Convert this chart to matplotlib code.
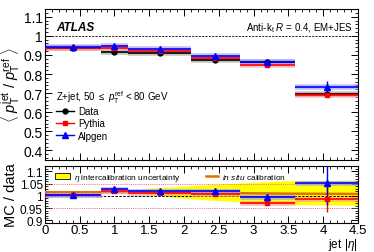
import matplotlib

matplotlib.use("Agg")
import matplotlib.pyplot as plt
from matplotlib.ticker import MultipleLocator, FixedLocator
from matplotlib.lines import Line2D
from matplotlib.patches import Patch

# eta bins and mean jet |eta| per bin
bin_lo = [0.0, 0.8, 1.2, 2.1, 2.8, 3.6]
bin_hi = [0.8, 1.2, 2.1, 2.8, 3.6, 4.5]
eta_pts = [0.4, 1.0, 1.65, 2.45, 3.2, 4.05]

# <pT jet / pT ref>
resp_data = [0.937, 0.917, 0.912, 0.872, 0.865, 0.695]
resp_pythia = [0.938, 0.938, 0.922, 0.882, 0.845, 0.690]
resp_alpgen = [0.939, 0.947, 0.930, 0.892, 0.864, 0.733]
err_data = [0.004, 0.006, 0.005, 0.005, 0.006, 0.012]
err_pythia = [0.003, 0.004, 0.004, 0.004, 0.005, 0.010]
err_alpgen = [0.004, 0.006, 0.005, 0.006, 0.008, 0.032]

# MC / data
ratio_pythia = [1.003, 1.019, 1.012, 1.009, 0.972, 0.988]
ratio_alpgen = [1.005, 1.030, 1.022, 1.022, 0.994, 1.052]
rerr_pythia = [0.004, 0.005, 0.005, 0.006, 0.008, 0.055]
rerr_alpgen = [0.004, 0.006, 0.006, 0.007, 0.010, 0.090]

# eta intercalibration uncertainty band and in situ calibration
band_eta = [1.2, 1.5, 2.0, 2.5, 3.0, 3.5, 4.5]
band_hi = [1.020, 1.032, 1.040, 1.048, 1.055, 1.062, 1.064]
band_lo = [1.020, 1.004, 0.990, 0.981, 0.972, 0.965, 0.962]
insitu_eta = [0.0, 1.2, 2.1, 2.8, 3.6, 4.5]
insitu_val = [1.015, 1.015, 1.013, 1.011, 1.009, 1.008]

plt.rcParams["font.family"] = ["Liberation Sans", "DejaVu Sans"]
plt.rcParams["mathtext.fontset"] = "custom"
plt.rcParams["mathtext.rm"] = "Liberation Sans"
plt.rcParams["mathtext.it"] = "Liberation Sans:italic"

fig = plt.figure(figsize=(3.74, 2.53), dpi=100)
ax = fig.add_axes([0.120, 0.364, 0.837, 0.596])
axr = fig.add_axes([0.120, 0.115, 0.837, 0.225])


def style(a, ysize=10):
    a.tick_params(which="both", direction="in", top=True, right=True, labelsize=10, pad=1.5)
    a.tick_params(axis="y", labelsize=ysize)
    a.tick_params(axis="x", labelsize=9.5, pad=1)
    a.tick_params(which="major", length=5, width=0.7)
    a.tick_params(which="minor", length=2.5, width=0.6)
    for s in a.spines.values():
        s.set_linewidth(0.8)


series = [
    (resp_data, err_data, "black", "o", 3.5),
    (resp_pythia, err_pythia, "red", "s", 3.5),
    (resp_alpgen, err_alpgen, "blue", "^", 4),
]
light = {"black": "#999999", "red": "#ff9999", "blue": "#9999ff"}

for vals, errs, c, m, ms in series:
    ax.hlines(vals, bin_lo, bin_hi, colors=light[c], lw=4, alpha=0.6, zorder=2)
    ax.hlines(vals, bin_lo, bin_hi, colors=c, lw=1.2, zorder=3)
    ax.errorbar(eta_pts, vals, yerr=errs, fmt=m, color=c, ms=ms, elinewidth=1, zorder=4)

ax.axhline(1.0, color="black", ls=(0, (2.5, 1.5)), lw=0.6, zorder=1)
ax.set_xlim(0, 4.5)
ax.set_ylim(0.35, 1.14)
ax.xaxis.set_major_locator(MultipleLocator(0.5))
ax.xaxis.set_minor_locator(MultipleLocator(0.1))
ax.yaxis.set_major_locator(FixedLocator([0.4, 0.5, 0.6, 0.7, 0.8, 0.9, 1.0, 1.1]))
ax.yaxis.set_minor_locator(MultipleLocator(0.02))
ax.set_yticklabels(["0.4", "0.5", "0.6", "0.7", "0.8", "0.9", "1", "1.1"])
ax.set_xticklabels([])
style(ax)
ax.set_ylabel(r"$\langle\ p_{\mathrm{T}}^{\mathrm{jet}}\ /\ p_{\mathrm{T}}^{\mathrm{ref}}\ \rangle$",
              fontsize=10.5, labelpad=1)

ax.text(0.035, 0.88, "ATLAS", transform=ax.transAxes, fontsize=8.5,
        fontweight="bold", fontstyle="italic", va="center")
ax.text(0.985, 0.88, r"Anti-k$_{\mathrm{t}}$ $R$ = 0.4, EM+JES", transform=ax.transAxes,
        fontsize=7, ha="right", va="center")
ax.text(0.035, 0.42, r"Z+jet, 50 $\leq$ $p_{\mathrm{T}}^{\mathrm{ref}}$ < 80 GeV",
        transform=ax.transAxes, fontsize=7, va="center")

handles = [
    Line2D([], [], color="black", marker="o", ms=3.5, lw=1),
    Line2D([], [], color="red", marker="s", ms=3.5, lw=1),
    Line2D([], [], color="blue", marker="^", ms=4, lw=1),
]
ax.legend(handles, ["Data", "Pythia", "Alpgen"], loc="upper left",
          bbox_to_anchor=(0.02, 0.39), frameon=False, fontsize=7,
          handlelength=1.8, handletextpad=0.5, labelspacing=0.25, borderpad=0)

# ratio panel
axr.fill_between(band_eta, band_lo, band_hi, color="#ffff00", lw=0, zorder=1)
axr.axhline(1.05, color="#ff6666", ls=(0, (1, 1.2)), lw=0.7, zorder=2)
axr.axhline(0.95, color="#ff6666", ls=(0, (1, 1.2)), lw=0.7, zorder=2)
axr.axhline(1.0, color="black", ls=(0, (2.5, 1.5)), lw=0.7, zorder=2)
axr.plot(insitu_eta, insitu_val, color="#e07000", lw=1.8, zorder=3)

for vals, errs, c, m, ms in [
    (ratio_pythia, rerr_pythia, "red", "s", 3.5),
    (ratio_alpgen, rerr_alpgen, "blue", "^", 4),
]:
    axr.hlines(vals, bin_lo, bin_hi, colors=light[c], lw=3.5, alpha=0.6, zorder=4)
    axr.hlines(vals, bin_lo, bin_hi, colors=c, lw=1.2, zorder=5)
    axr.errorbar(eta_pts, vals, yerr=errs, fmt=m, color=c, ms=ms, elinewidth=1, zorder=6)

axr.set_xlim(0, 4.5)
axr.set_ylim(0.89, 1.122)
axr.xaxis.set_minor_locator(MultipleLocator(0.1))
axr.set_xticks([0, 0.5, 1, 1.5, 2, 2.5, 3, 3.5, 4, 4.5])
axr.set_xticklabels(["0", "0.5", "1", "1.5", "2", "2.5", "3", "3.5", "4", "4.5"])
axr.yaxis.set_major_locator(FixedLocator([0.9, 0.95, 1.0, 1.05, 1.1]))
axr.yaxis.set_minor_locator(MultipleLocator(0.01))
axr.set_yticklabels(["0.9", "0.95", "1", "1.05", "1.1"])
style(axr, ysize=8.5)
axr.set_ylabel("MC / data", fontsize=10.5, labelpad=1)
fig.text(0.955, 0.0, r"jet |$\eta$|", fontsize=8.5, ha="right", va="bottom")

axr.legend([Patch(facecolor="#ffff00", edgecolor="black", lw=0.6)],
           [r"$\eta$ intercalibration uncertainty"], loc="upper left",
           bbox_to_anchor=(0.02, 0.97), frameon=False, fontsize=6,
           handlelength=1.8, handleheight=0.9, handletextpad=0.5, borderpad=0)
axr.add_artist(axr.get_legend())
axr.legend([Line2D([], [], color="#e07000", lw=1.8)], [r"$in\ situ$ calibration"],
           loc="upper left", bbox_to_anchor=(0.5, 0.97), frameon=False, fontsize=6,
           handlelength=1.5, handletextpad=0.5, borderpad=0)

fig.savefig("out.png", dpi=100)
